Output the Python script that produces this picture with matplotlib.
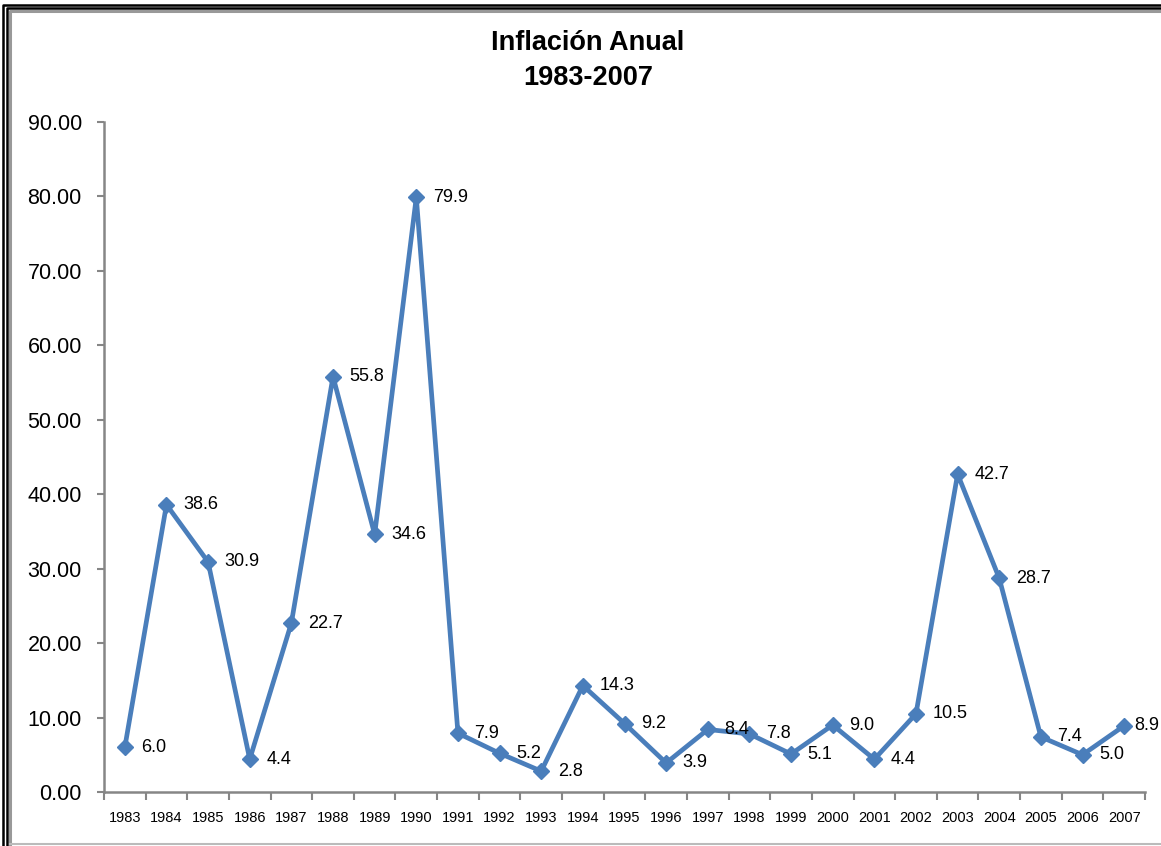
import matplotlib
matplotlib.use("Agg")
import matplotlib.pyplot as plt
from matplotlib.lines import Line2D
from matplotlib.ticker import FormatStrFormatter

# datos de inflacion anual
years = ["1983", "1984", "1985", "1986", "1987", "1988", "1989", "1990", "1991",
         "1992", "1993", "1994", "1995", "1996", "1997", "1998", "1999", "2000",
         "2001", "2002", "2003", "2004", "2005", "2006", "2007"]
inflation = [6.0, 38.6, 30.9, 4.4, 22.7, 55.8, 34.6, 79.9, 7.9,
             5.2, 2.8, 14.3, 9.2, 3.9, 8.4, 7.8, 5.1, 9.0,
             4.4, 10.5, 42.7, 28.7, 7.4, 5.0, 8.9]
y_ticks = [0, 10, 20, 30, 40, 50, 60, 70, 80, 90]

W, H = 1161, 846
plt.rcParams['font.family'] = ['Liberation Sans', 'DejaVu Sans']

fig = plt.figure(figsize=(W / 100, H / 100), dpi=100)
ax = fig.add_axes([104 / W, 1 - 792 / H, (1145 - 104) / W, (792 - 122) / H])

blue = "#4A7EBB"
grey = "#868686"
x = list(range(len(years)))

ax.plot(x, inflation, color=blue, lw=3.4, marker="D", markersize=8.5,
        markerfacecolor=blue, markeredgecolor=blue, zorder=3)

for xi, v in zip(x, inflation):
    # the last label is pushed closer so it fits inside the frame
    dx = 7 if xi == len(years) - 1 else 12
    ax.annotate(f"{v:.1f}", (xi, v), xytext=(dx, 0), textcoords="offset points",
                ha="left", va="center", fontsize=13, color="black", zorder=4)

ax.set_xlim(-0.5, len(years) - 0.5)
ax.set_ylim(0, 90)
ax.set_yticks(y_ticks)
ax.yaxis.set_major_formatter(FormatStrFormatter("%.2f"))

# ticks between categories, labels in the middle
ax.set_xticks([i - 0.5 for i in range(len(years) + 1)])
ax.set_xticklabels([])
ax.set_xticks(x, minor=True)
ax.set_xticklabels(years, minor=True, fontsize=10.5)
ax.tick_params(axis="x", which="minor", length=0, pad=14)
ax.tick_params(axis="x", which="major", length=6, width=1.5, color=grey)
ax.tick_params(axis="y", length=5, width=1.5, color=grey, labelsize=15.5, pad=11)

for side in ["top", "right"]:
    ax.spines[side].set_visible(False)
for side in ["left", "bottom"]:
    ax.spines[side].set_color(grey)
    ax.spines[side].set_linewidth(1.8)

fig.text(588 / W, 1 - 43 / H, "Inflación Anual", ha="center", va="center",
         fontsize=19.5, fontweight="bold")
fig.text(588 / W, 1 - 78 / H, "1983-2007", ha="center", va="center",
         fontsize=19.5, fontweight="bold")

# marco del grafico
def px_line(xs, ys, color, lw):
    fig.add_artist(Line2D([a / W for a in xs], [1 - b / H for b in ys],
                          color=color, lw=lw, transform=fig.transFigure))

px_line([2.5, 2.5, W], [H, 5, 5], "black", 1.8)
px_line([6.5, 6.5, W], [H, 8, 8], "black", 1.8)
px_line([10, 10, W], [844, 11, 11], "#999999", 2.2)
px_line([10, W], [844, 844], "#bbbbbb", 1.5)

fig.savefig("out.png", dpi=100)
